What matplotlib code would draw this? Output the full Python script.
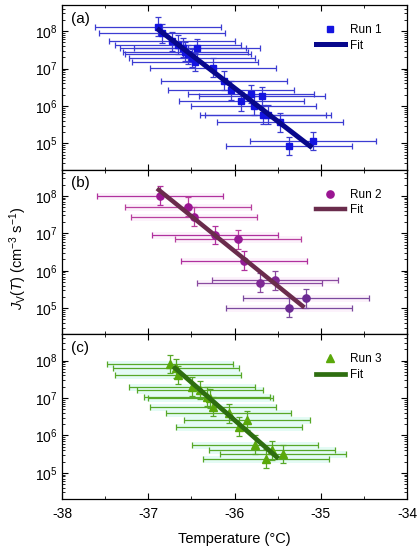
import numpy as np
import matplotlib.pyplot as plt
from matplotlib.ticker import LogLocator, NullFormatter, MultipleLocator

plt.rcParams['font.family'] = ['Liberation Sans', 'DejaVu Sans']
plt.rcParams['mathtext.fontset'] = 'custom'
plt.rcParams['mathtext.rm'] = 'Liberation Sans'
plt.rcParams['mathtext.it'] = 'Liberation Sans:italic'

# Run 1 (panel a)
run1_T = [-36.89, -36.84, -36.73, -36.66, -36.60, -36.44, -36.57, -36.54, -36.49,
          -36.46, -36.25, -36.12, -36.04, -35.81, -35.68, -35.92, -35.78, -35.67,
          -35.61, -35.47, -35.09, -35.37]
run1_J = [1.3e8, 8.7e7, 5.4e7, 4.3e7, 3.6e7, 3.5e7, 2.8e7, 2.4e7, 1.9e7,
          1.5e7, 1.06e7, 4.7e6, 2.6e6, 2.1e6, 1.8e6, 1.34e6, 1.03e6, 5.9e5,
          5.9e5, 3.7e5, 1.16e5, 8.5e4]
run1_fit_T = [-36.90, -35.10]
run1_fit_J = [1.18e8, 7.7e4]

# Run 2 (panel b)
run2_T = [-36.87, -36.54, -36.47, -36.23, -35.96, -35.89, -35.71, -35.53, -35.17, -35.37]
run2_J = [1.0e8, 5.1e7, 2.75e7, 9.0e6, 6.9e6, 1.86e6, 4.8e5, 5.5e5, 1.85e5, 1.04e5]
run2_fit_T = [-36.90, -35.19]
run2_fit_J = [1.57e8, 1.04e5]

# Run 3 (panel c)
run3_T = [-36.75, -36.68, -36.66, -36.49, -36.40, -36.32, -36.28, -36.25, -36.07,
          -35.86, -35.95, -35.76, -35.57, -35.44, -35.64]
run3_J = [8.1e7, 6.2e7, 4.1e7, 2.0e7, 1.64e7, 1.09e7, 9.8e6, 5.9e6, 3.9e6,
          2.5e6, 1.7e6, 5.7e5, 4.0e5, 3.2e5, 2.4e5]
run3_fit_T = [-36.71, -35.49]
run3_fit_J = [6.9e7, 2.4e5]

T_ERR = 0.73      # horizontal error, °C
J_ERR_DEX = 0.25  # vertical error, decades

panels = [
    dict(T=run1_T, J=run1_J, fT=run1_fit_T, fJ=run1_fit_J, tag='(a)', label='Run 1',
         marker='s', ms=4.6, mc='#1414e0', ec='#3c3cd2', fc='#08088c', lw=3.6, glow=None),
    dict(T=run2_T, J=run2_J, fT=run2_fit_T, fJ=run2_fit_J, tag='(b)', label='Run 2',
         marker='o', ms=5.2,
         mc=['#9a1592', '#9a1592', '#9a1592', '#981894', '#961a94', '#921c95',
             '#7e2894', '#7e2894', '#6a2a92', '#6a2a92'],
         ec=['#b0309e', '#b8409e', '#b8409e', '#b0309e', '#b8409e', '#b0309e',
             '#8a4aa0', '#8a4aa0', '#7a4a9e', '#7a4a9e'],
         fc='#6a2c4c', lw=3.2, glow='#fcf2fb'),
    dict(T=run3_T, J=run3_J, fT=run3_fit_T, fJ=run3_fit_J, tag='(c)', label='Run 3',
         marker='^', ms=5.4, mc='#5aa80a', ec='#58a828', fc='#2e6e10', lw=3.4, glow='#e4fbf5'),
]

fig, axes = plt.subplots(3, 1, figsize=(4.2, 5.5), dpi=100, sharex=True)
fig.subplots_adjust(left=0.148, right=0.969, top=0.991, bottom=0.0927, hspace=0)

for ax, p in zip(axes, panels):
    T = np.array(p['T'])
    J = np.array(p['J'])
    lo = J - J / 10**J_ERR_DEX
    hi = J * 10**J_ERR_DEX - J
    n = len(T)
    mcs = p['mc'] if isinstance(p['mc'], list) else [p['mc']] * n
    ecs = p['ec'] if isinstance(p['ec'], list) else [p['ec']] * n

    if p['glow']:
        for i in range(n):
            ax.errorbar(T[i], J[i], xerr=T_ERR, fmt='none', ecolor=p['glow'],
                        elinewidth=5, capsize=0, zorder=1)
    for i in range(n):
        ax.errorbar(T[i], J[i], xerr=T_ERR, yerr=[[lo[i]], [hi[i]]], fmt='none',
                    ecolor=ecs[i], elinewidth=0.9, capsize=2.5, capthick=0.9, zorder=2)
        ax.plot(T[i], J[i], linestyle='none', marker=p['marker'], ms=p['ms'],
                color=mcs[i], mec=mcs[i], zorder=3)

    ax.plot(p['fT'], p['fJ'], color=p['fc'], lw=p['lw'], solid_capstyle='butt', zorder=4)

    # legend proxies
    mk, = ax.plot([], [], linestyle='none', marker=p['marker'], ms=p['ms'], color=mcs[0])
    ln, = ax.plot([], [], color=p['fc'], lw=p['lw'])
    ax.legend([mk, ln], [p['label'], 'Fit'], loc='upper left', bbox_to_anchor=(0.72, 0.92),
              frameon=False, fontsize=8.5, handlelength=2.4, handletextpad=0.45,
              labelspacing=0.3, borderpad=0)

    ax.text(0.025, 0.96, p['tag'], transform=ax.transAxes, fontsize=11, va='top', ha='left')

    ax.set_yscale('log')
    ax.set_ylim(2e4, 5e8)
    ax.set_xlim(-38, -34)
    ax.set_yticks([1e5, 1e6, 1e7, 1e8])
    ax.yaxis.set_minor_locator(LogLocator(base=10, subs=np.arange(2, 10), numticks=20))
    ax.yaxis.set_minor_formatter(NullFormatter())
    ax.xaxis.set_major_locator(MultipleLocator(1))
    ax.xaxis.set_minor_locator(MultipleLocator(0.5))
    ax.tick_params(which='both', direction='in', top=True, right=True, labelsize=10)
    ax.tick_params(which='major', length=4, width=0.8)
    ax.tick_params(which='minor', length=2.2, width=0.6)
    for s in ax.spines.values():
        s.set_linewidth(0.9)

axes[-1].set_xticks([-38, -37, -36, -35, -34])
axes[-1].set_xticklabels(['-38', '-37', '-36', '-35', '-34'])
axes[-1].set_xlabel('Temperature (°C)', fontsize=10.5, labelpad=8)
axes[-1].tick_params(axis='x', pad=6)
fig.text(0.043, 0.53, r'$J_{\mathrm{V}}(T)$ (cm$^{-3}$ s$^{-1}$)', rotation=90,
         va='center', ha='center', fontsize=10.5)

fig.savefig('out.png', dpi=100)
